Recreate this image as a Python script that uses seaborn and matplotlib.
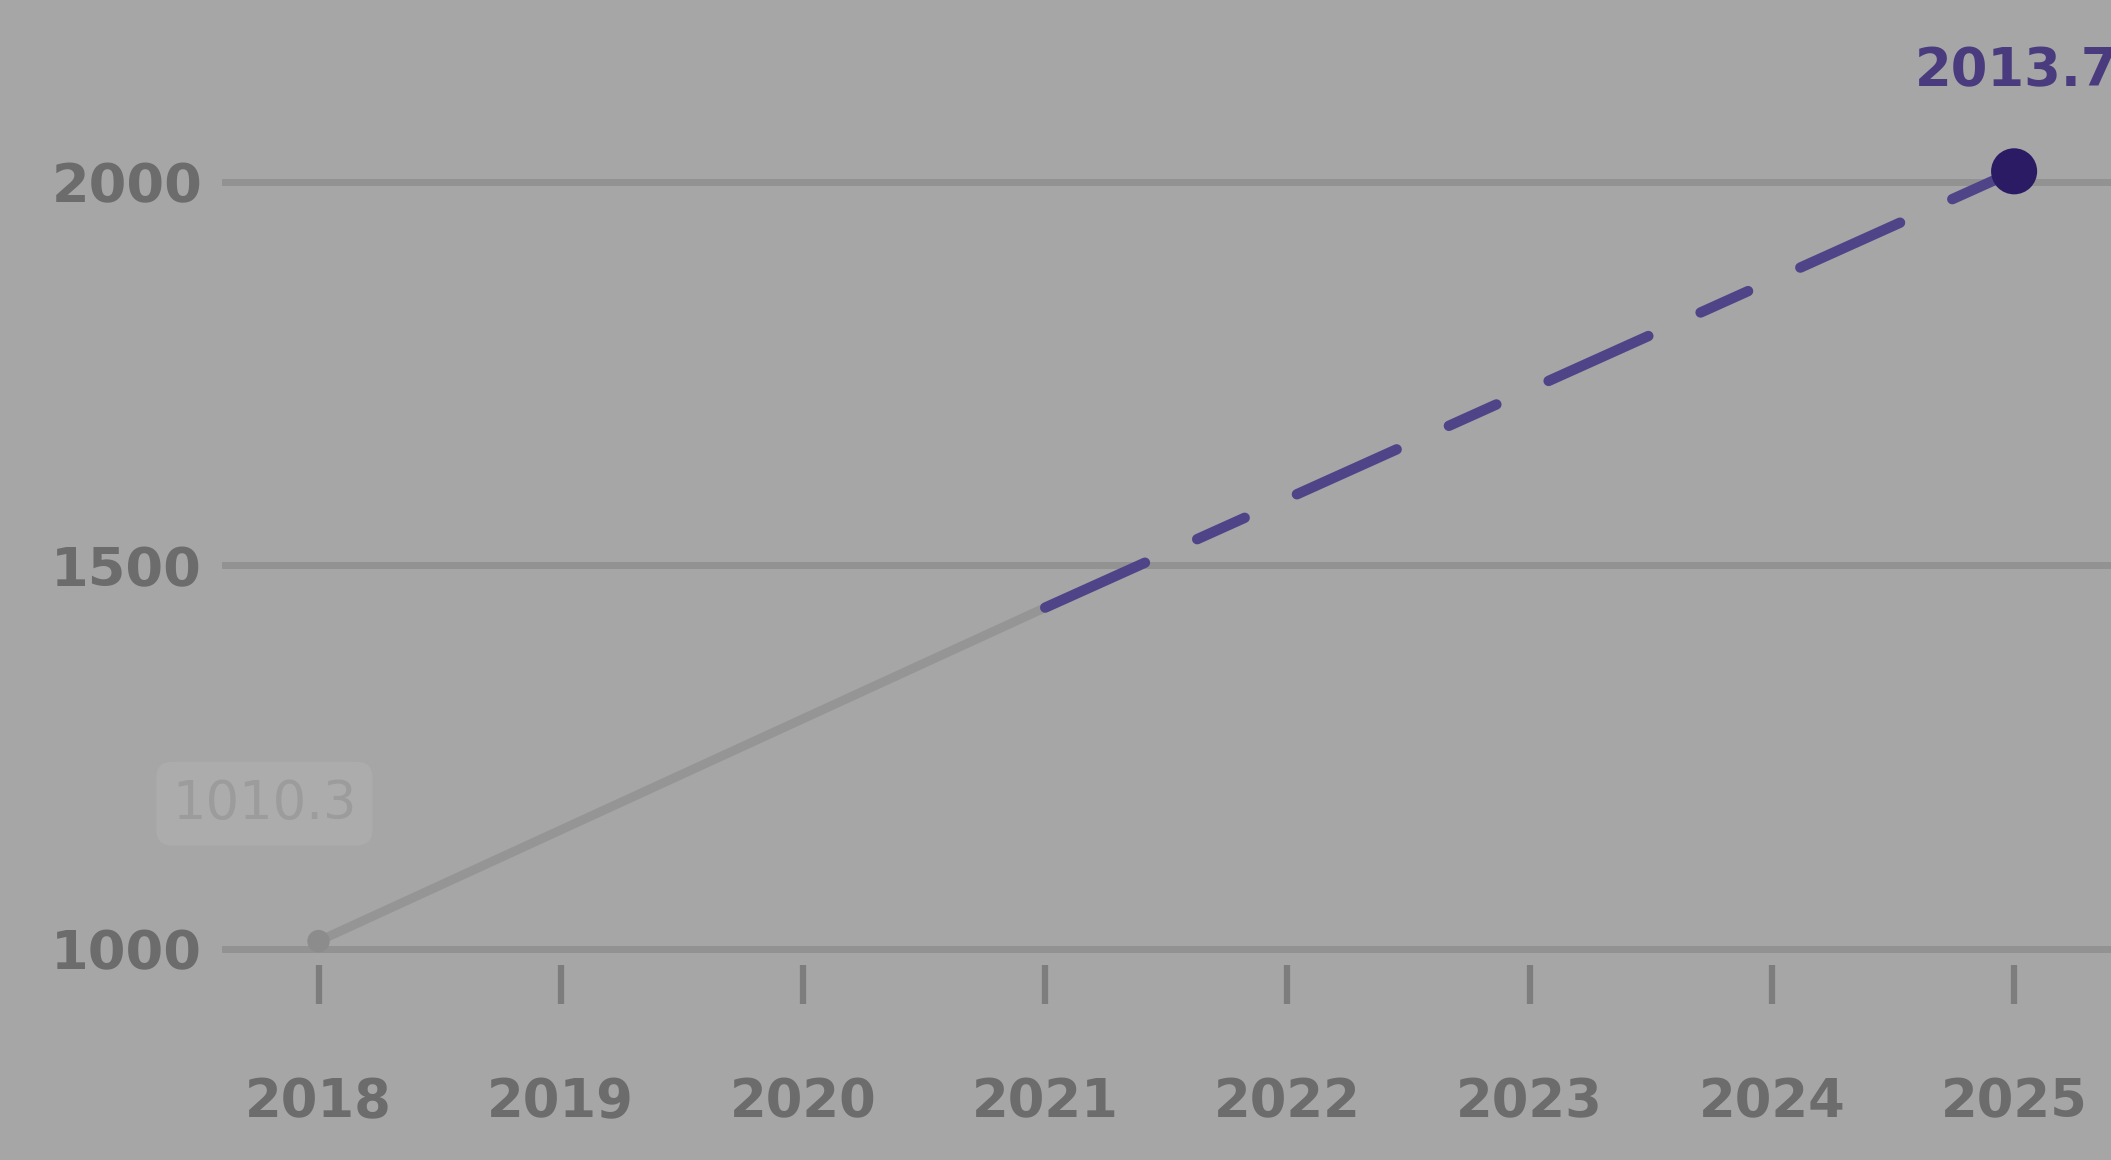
import matplotlib
matplotlib.use("Agg")
import matplotlib.pyplot as plt
import seaborn as sns
import pandas as pd

# ---- data ----
tick_years = [2018, 2019, 2020, 2021, 2022, 2023, 2024, 2025]
y_ticks = [1000, 1500, 2000]
actual_years = [2018, 2021]
actual_values = [1010.3, 1445.0]
forecast_years = [2021, 2025]
forecast_values = [1445.0, 2013.7]
start_label = "1010.3"
end_label = "2013.7"

BG = "#a6a6a6"
TXT = "#6c6c6c"
GRID = "#929292"
PURPLE_LINE = "#4f4488"
PURPLE_DOT = "#2b1a64"

sns.set_theme(style="white")
plt.rcParams["font.family"] = ["DejaVu Sans"]

fig = plt.figure(figsize=(21.11, 11.6), dpi=100)
fig.patch.set_facecolor(BG)
ax = fig.add_axes([0.105, 0.168, 0.895, 0.832])
ax.set_facecolor(BG)

df_a = pd.DataFrame({"year": actual_years, "value": actual_values})
df_f = pd.DataFrame({"year": forecast_years, "value": forecast_values})

sns.lineplot(data=df_a, x="year", y="value", ax=ax, color="#959595",
             linewidth=6.5, zorder=3)
sns.lineplot(data=df_f, x="year", y="value", ax=ax, color=PURPLE_LINE,
             linewidth=7.5, zorder=4)
ax.lines[-1].set_dashes((10.5, 5.5, 5.0, 5.5))
ax.lines[-1].set_dash_capstyle("round")

sns.scatterplot(x=[actual_years[0]], y=[actual_values[0]], ax=ax, s=260,
                color="#8c8c8c", edgecolor="none", zorder=5)
sns.scatterplot(x=[forecast_years[-1]], y=[forecast_values[-1]], ax=ax, s=1100,
                color=PURPLE_DOT, edgecolor="none", zorder=6)

ax.annotate(start_label, xy=(actual_years[0], actual_values[0]),
            xytext=(-39, 99), textcoords="offset points", ha="center", va="center",
            fontsize=38, color="#9c9c9c",
            bbox=dict(boxstyle="round,pad=0.3", fc="#acacac", ec="none"), zorder=7)
ax.annotate(end_label, xy=(forecast_years[-1], forecast_values[-1]),
            xytext=(2, 72), textcoords="offset points", ha="center", va="center",
            fontsize=38, fontweight="bold", color="#4a3b7e", zorder=7,
            annotation_clip=False)

ax.set_xlim(2017.6, 2025.4)
ax.set_ylim(979, 2237)
ax.set_xticks(tick_years)
ax.set_xticklabels([str(y) for y in tick_years])
ax.set_yticks(y_ticks)
ax.set_yticklabels([str(v) for v in y_ticks])

ax.yaxis.grid(True, color=GRID, linewidth=5, zorder=0)
ax.xaxis.grid(False)
ax.set_axisbelow(True)
for s in ax.spines.values():
    s.set_visible(False)

ax.tick_params(axis="x", which="major", bottom=True, direction="out", length=28,
               width=4.5, color="#7d7d7d", pad=52, labelsize=38, labelcolor=TXT)
ax.tick_params(axis="y", which="major", left=False, length=0, pad=14,
               labelsize=39, labelcolor=TXT)
for lab in ax.get_xticklabels() + ax.get_yticklabels():
    lab.set_fontweight("bold")
ax.set_xlabel("")
ax.set_ylabel("")
if ax.get_legend():
    ax.get_legend().remove()

fig.savefig("out.png", dpi=100, facecolor=BG)
